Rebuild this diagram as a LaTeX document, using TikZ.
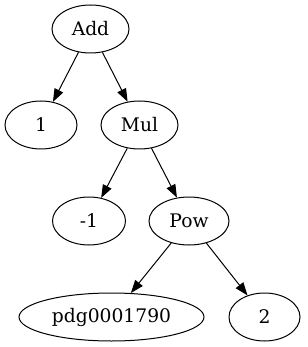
\documentclass[tikz,border=0pt]{standalone}
\usepackage{fontspec}
\setmainfont{DejaVu Serif}
\usetikzlibrary{shapes.geometric,arrows.meta}
\begin{document}
\begin{tikzpicture}[x=1pt,y=-1pt,
  tnode/.style={draw,ellipse,line width=1pt,inner sep=0pt,minimum height=48pt,minimum width=73pt,font=\fontsize{18.7}{20}\selectfont},
  edge/.style={line width=1pt,-{Triangle[length=13pt,width=9.5pt]}}]
\useasboundingbox (0,0) rectangle (307,347);
\node[tnode,minimum width=77pt] (add) at (90.5,29) {Add};
\node[tnode,minimum width=72pt] (one) at (41,125) {1};
\node[tnode,minimum width=77pt] (mul) at (139.5,125) {Mul};
\node[tnode,minimum width=73pt] (m1) at (89,221) {-1};
\node[tnode,minimum width=80pt] (pow) at (189,221) {Pow};
\node[tnode,minimum width=185pt] (pdg) at (111.5,317) {pdg0001790};
\node[tnode,minimum width=71pt] (two) at (264.5,317) {2};
\draw[edge] (add) -- (one);
\draw[edge] (add) -- (mul);
\draw[edge] (mul) -- (m1);
\draw[edge] (mul) -- (pow);
\draw[edge] (pow) -- (pdg);
\draw[edge] (pow) -- (two);
\end{tikzpicture}
\end{document}
